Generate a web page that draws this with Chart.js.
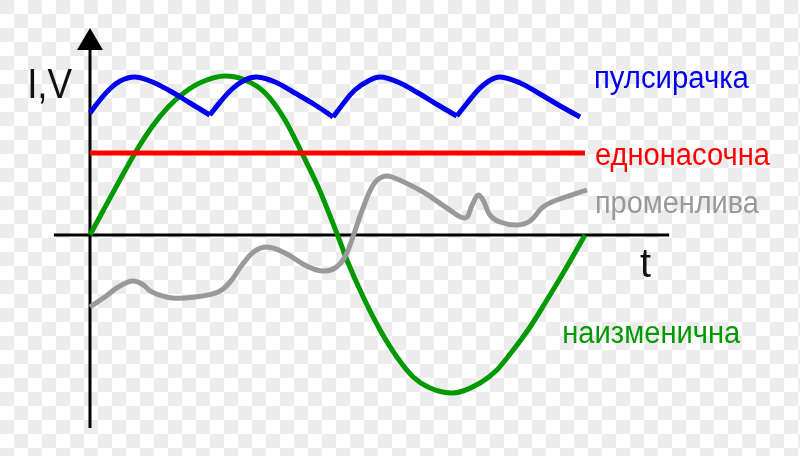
<!DOCTYPE html>
<html>
<head>
<meta charset="utf-8">
<script src="https://cdn.jsdelivr.net/npm/chart.js@4"></script>
<style>
html, body { margin:0; padding:0; }
body {
  width:800px; height:456px;
  background: repeating-conic-gradient(#ffffff 0% 25%, #ececec 0% 50%) 0 0 / 28px 28px;
}
#wrap { width:800px; height:456px; position:relative; }
</style>
</head>
<body>
<div id="wrap"><canvas id="chart" width="800" height="456"></canvas></div>
<script>
// values: x = time (0..100 = one AC period), y = arbitrary units
const pulsatingArches = [
  [[0,122],[2,135],[4,146],[6.1,154],[8.9,158],[12.1,154],[16.2,144],[20.2,132],[24.2,120]],
  [[24.2,120],[26.3,133],[28.7,146],[31.3,155],[33.7,158],[37.4,153],[41.4,142],[45.5,130],[49.1,118]],
  [[49.1,118],[51.1,131],[53.5,145],[56.2,154],[58.6,158],[62.2,153],[66.3,142],[70.3,130],[74.1,119]],
  [[74.1,119],[76.2,132],[78.4,145],[80.6,154],[82.8,158],[86.9,152],[90.9,141],[95,129],[99,118]]
];
const directCurrent = [[0,82],[100,82]];
const varyingCurrent = [
  [0,-72],[3,-62],[5.7,-52],[8.5,-46],[10.5,-49],[12.5,-57],[16.6,-63],[21.2,-62],[25.9,-57],
  [28.3,-47],[30.7,-30],[33.3,-16],[35.8,-12],[39.4,-18],[43.4,-30],[46.9,-36],[49.5,-33],
  [51.5,-22],[53.1,-2],[55,25],[57.2,50],[59,58],[61,58],[67.3,43],[72.1,27],[75.8,17],
  [77.2,30],[78.4,40],[79.4,35],[80.8,20],[82.8,13],[86.3,10],[88.9,14],[91.5,28],[94.3,35],[100.4,45]
];
const alternatingCurrent = [
  [0,0],[2.4,22],[5.7,52],[9.1,82],[12.5,108],[15.8,128],[19.2,143],[22.6,153],[27.3,159],
  [31.3,155],[35.4,142],[39.4,115],[42.8,82],[46.1,48],[50,0],[51.9,-25],[55.2,-62],[58.6,-95],
  [62,-122],[65.3,-142],[68.7,-153],[73.3,-158],[78.8,-148],[82.2,-135],[85.5,-115],[88.9,-92],
  [92.3,-65],[95.6,-38],[100,0]
];
const seriesNames = ['пулсирачка', 'еднонасочна', 'променлива', 'наизменична'];
const axisNames = ['I,V', 't'];

const BLUE = '#0000ee', RED = '#ff0000', GREY = '#999999', GREEN = '#009900';

const lineDs = (data, color, tension) => ({
  data, borderColor: color, borderWidth: 5, tension,
  pointRadius: 0, fill: false, borderJoinStyle: 'round'
});

const datasets = [
  ...pulsatingArches.map(a => lineDs(a, BLUE, 0.4)),
  lineDs(directCurrent, RED, 0),
  lineDs(varyingCurrent, GREY, 0.4),
  { ...lineDs(alternatingCurrent, GREEN, 0.4), cubicInterpolationMode: 'monotone' }
];

// draws axes, arrow and text labels from the scales
const diagram = {
  id: 'diagram',
  beforeDatasetsDraw(chart){
    const { ctx, scales:{ x, y } } = chart;
    const x0 = x.getPixelForValue(0), y0 = y.getPixelForValue(0);
    ctx.save();
    ctx.strokeStyle = '#000';
    ctx.lineWidth = 3;
    ctx.beginPath();
    ctx.moveTo(x.getPixelForValue(-7.3), y0);
    ctx.lineTo(x.getPixelForValue(117), y0);
    ctx.moveTo(x0, y.getPixelForValue(-193));
    ctx.lineTo(x0, y.getPixelForValue(187));
    ctx.stroke();
    ctx.fillStyle = '#000';
    ctx.beginPath();
    ctx.moveTo(x0, y.getPixelForValue(207));
    ctx.lineTo(x0 - 13, y.getPixelForValue(185));
    ctx.lineTo(x0 + 13, y.getPixelForValue(185));
    ctx.closePath();
    ctx.fill();
    ctx.restore();
  },
  afterDatasetsDraw(chart){
    const { ctx, scales:{ x, y } } = chart;
    const put = (text, tx, ty, width, size, color) => {
      ctx.save();
      ctx.font = size + 'px "Liberation Sans", Arial, sans-serif';
      ctx.fillStyle = color;
      ctx.textBaseline = 'alphabetic';
      const w = ctx.measureText(text).width;
      ctx.translate(x.getPixelForValue(tx), y.getPixelForValue(ty));
      ctx.scale(width / w, 1);
      ctx.fillText(text, 0, 0);
      ctx.restore();
    };
    put(seriesNames[0], 101.8, 147, 155, 31, BLUE);
    put(seriesNames[1], 102.0, 70, 175, 31, RED);
    put(seriesNames[2], 102.0, 22, 164, 31, GREY);
    put(seriesNames[3], 95.4, -108, 178, 31, GREEN);
    put(axisNames[0], -12.7, 137, 45, 43, '#111');
    put(axisNames[1], 111.1, -42, 11, 41, '#111');
  }
};

new Chart(document.getElementById('chart'), {
  type: 'line',
  data: { datasets },
  options: {
    responsive: false,
    animation: false,
    events: [],
    layout: { padding: 0 },
    plugins: { legend: { display: false }, tooltip: { enabled: false } },
    scales: {
      x: { type: 'linear', min: -18.18, max: 143.43, display: false },
      y: { type: 'linear', min: -221, max: 235, display: false }
    }
  },
  plugins: [diagram]
});
</script>
</body>
</html>
